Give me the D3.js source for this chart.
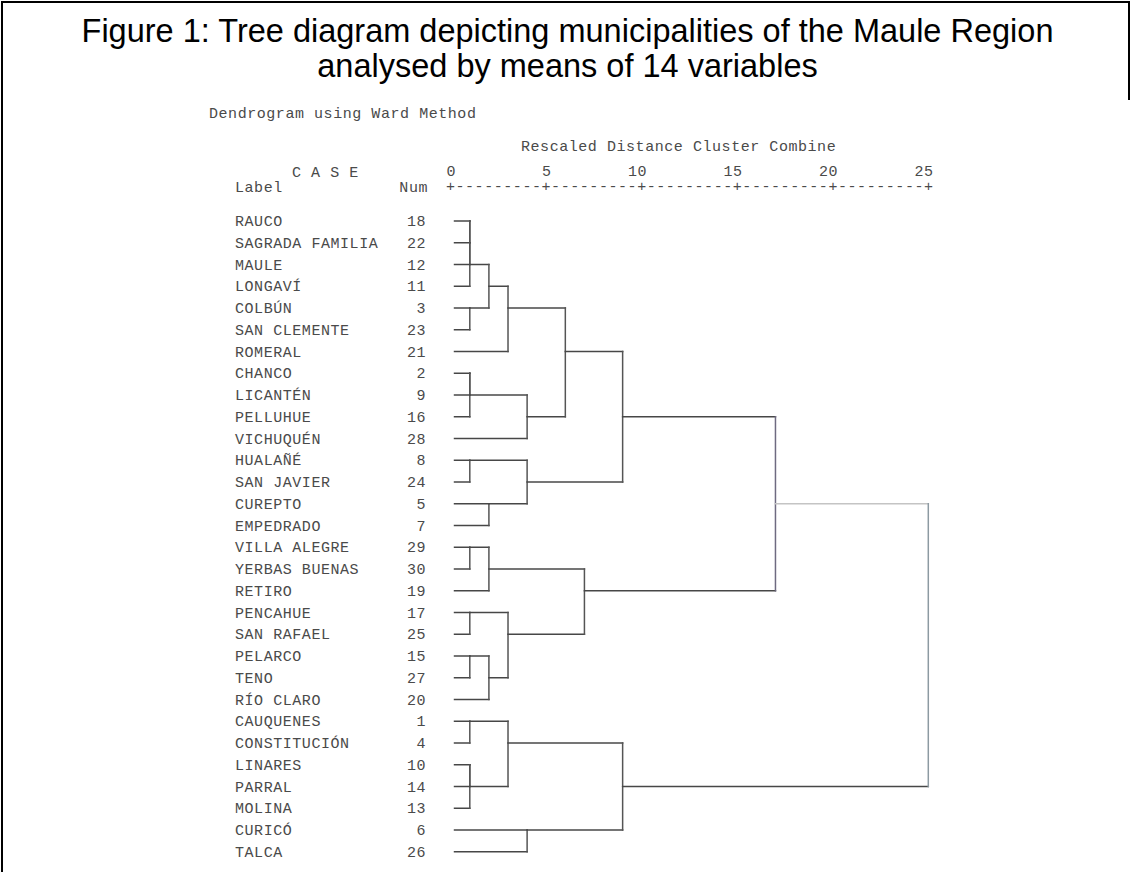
<!DOCTYPE html>
<html>
<head>
<meta charset="utf-8">
<script src="https://cdn.jsdelivr.net/npm/d3@7"></script>
<style>
  body { margin: 0; background: #fff; }
  svg { display: block; }
  .mono { font-family: "Liberation Mono", "DejaVu Sans Mono", monospace; font-size: 15px; fill: #4a4a4a; letter-spacing: 0.55px; }
  .title { font-family: "Liberation Sans", Arial, sans-serif; font-size: 32.5px; fill: #000; }
</style>
</head>
<body>
<script>
// case labels and SPSS case numbers, in dendrogram order
const labels = ["RAUCO", "SAGRADA FAMILIA", "MAULE", "LONGAVÍ", "COLBÚN", "SAN CLEMENTE",
  "ROMERAL", "CHANCO", "LICANTÉN", "PELLUHUE", "VICHUQUÉN", "HUALAÑÉ", "SAN JAVIER",
  "CUREPTO", "EMPEDRADO", "VILLA ALEGRE", "YERBAS BUENAS", "RETIRO", "PENCAHUE",
  "SAN RAFAEL", "PELARCO", "TENO", "RÍO CLARO", "CAUQUENES", "CONSTITUCIÓN", "LINARES",
  "PARRAL", "MOLINA", "CURICÓ", "TALCA"];
const caseNums = [18, 22, 12, 11, 3, 23, 21, 2, 9, 16, 28, 8, 24, 5, 7, 29, 30, 19, 17, 25,
  15, 27, 20, 1, 4, 10, 14, 13, 6, 26];

// merge steps (hclust style): negative = leaf (1-based row), positive = earlier step
const mergeA = [-1, 1, 2, -5, 3, 5, -8, 7, 8, 6, -12, -14, 11, 10, -16, 15, -19, -21, 18, 17, 16, -24, -26, 23, 22, -29, 25, 14, 27];
const mergeB = [-2, -3, -4, -6, 4, -7, -9, -10, -11, 9, -13, -15, 12, 13, -17, -18, -20, -22, -23, 19, 20, -25, -27, -28, 24, -30, 26, 21, 28];
// rescaled distance at which each step joins
const mergeDist = [1, 1, 1, 1, 2, 3, 1, 1, 4, 6, 1, 2, 4, 9, 1, 2, 1, 1, 2, 3, 7, 1, 1, 1, 3, 4, 9, 17, 25];

const axisTicks = [0, 5, 10, 15, 20, 25];

const W = 1131, H = 872;
const charW = 9.55;

const svg = d3.select("body").append("svg").attr("width", W).attr("height", H);

// frame
svg.append("path")
  .attr("d", `M2,${H} L2,2 L1129,2 L1129,100`)
  .attr("fill", "none").attr("stroke", "#000").attr("stroke-width", 2);

// titles
svg.append("text").attr("class", "title").attr("x", W / 2 + 2).attr("y", 42).attr("text-anchor", "middle")
  .text("Figure 1: Tree diagram depicting municipalities of the Maule Region");
svg.append("text").attr("class", "title").attr("x", W / 2 + 2).attr("y", 77).attr("text-anchor", "middle")
  .text("analysed by means of 14 variables");

svg.append("text").attr("class", "mono").attr("x", 209).attr("y", 118).text("Dendrogram using Ward Method");
svg.append("text").attr("class", "mono").attr("x", 521).attr("y", 151).text("Rescaled Distance Cluster Combine");

// scales
const x = d3.scaleLinear().domain([0, 25]).range([450.7, 928.3]);
const y = d3.scalePoint().domain(d3.range(labels.length)).range([221, 851.75]);

// header
svg.append("text").attr("class", "mono").attr("x", 292).attr("y", 177).text("C A S E");
svg.append("text").attr("class", "mono").attr("x", 235).attr("y", 192).text("Label");
svg.append("text").attr("class", "mono").attr("x", 428).attr("y", 192).attr("text-anchor", "end").text("Num");

// axis: tick numbers and +-----+ ruler
svg.selectAll(".tick-lbl").data(axisTicks).join("text")
  .attr("class", "mono tick-lbl")
  .attr("x", d => x(d) + charW / 2 + 0.5)
  .attr("y", 176)
  .attr("text-anchor", "end")
  .text(d => d);

const ruler = axisTicks.map((t, i) => i === 0 ? "+" : "---------+").join("");
svg.append("text").attr("class", "mono")
  .attr("x", x(0) - charW / 2)
  .attr("y", 191)
  .attr("textLength", x(25) - x(0) + charW)
  .attr("lengthAdjust", "spacing")
  .style("letter-spacing", "0px")
  .text(ruler);

// case rows
const rows = svg.append("g");
rows.selectAll(".lbl").data(labels).join("text")
  .attr("class", "mono lbl")
  .attr("x", 235).attr("y", (d, i) => y(i) + 5)
  .text(d => d);
rows.selectAll(".num").data(caseNums).join("text")
  .attr("class", "mono num")
  .attr("x", 426).attr("y", (d, i) => y(i) + 5)
  .attr("text-anchor", "end")
  .text(d => d);

// build dendrogram segments
const leafStart = 0.2;
const handleRow = [];
const segs = [];
function node(id) {
  if (id < 0) return { row: -id - 1, dx: leafStart };
  return { row: handleRow[id - 1], dx: mergeDist[id - 1] };
}
mergeA.forEach((a, k) => {
  const A = node(a), B = node(mergeB[k]);
  const d = mergeDist[k];
  const root = k === mergeA.length - 1;
  const top = k >= mergeA.length - 2;
  segs.push({ x1: A.dx, x2: d, r1: A.row, r2: A.row, c: "#474747" });
  segs.push({ x1: B.dx, x2: d, r1: B.row, r2: B.row, c: root ? "#c4c4c4" : "#474747" });
  segs.push({ x1: d, x2: d, r1: A.row, r2: B.row, c: root ? "#8d9aa2" : (top ? "#6e6a80" : "#555") });
  handleRow.push(Math.floor((A.row + B.row) / 2));
});

svg.append("g").selectAll("line").data(segs).join("line")
  .attr("x1", d => x(d.x1)).attr("x2", d => x(d.x2))
  .attr("y1", d => y(d.r1)).attr("y2", d => y(d.r2))
  .attr("stroke", d => d.c)
  .attr("stroke-width", 1.5)
  .attr("stroke-linecap", "square");
</script>
</body>
</html>
